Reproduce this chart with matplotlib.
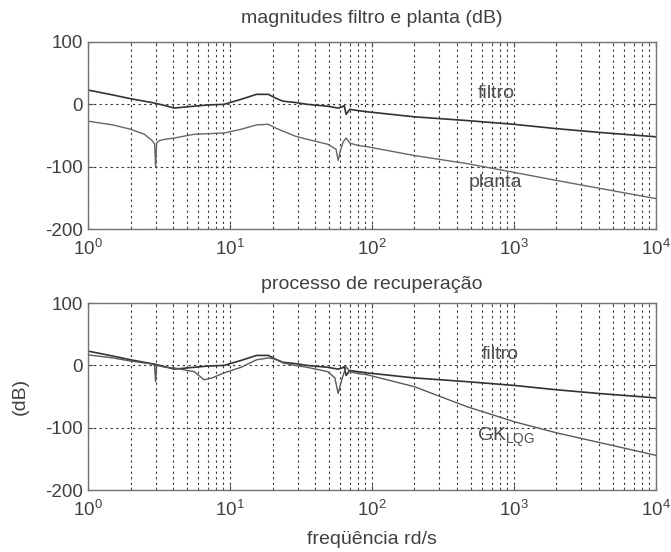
import numpy as np
import matplotlib
matplotlib.use('Agg')
import matplotlib.pyplot as plt

plt.rcParams['font.family'] = ['Liberation Sans', 'DejaVu Sans']
plt.rcParams['mathtext.fontset'] = 'custom'
plt.rcParams['mathtext.rm'] = 'Liberation Sans'
plt.rcParams['mathtext.it'] = 'Liberation Sans'
plt.rcParams['axes.unicode_minus'] = False

# filtro magnitude (dB) vs frequency (rd/s)
w_filtro = [1, 1.5, 2, 2.5, 2.95, 3.5, 4.06, 5, 5.6, 7, 9.1, 12, 15.4, 18.7, 21, 23.7,
            28.9, 35, 49, 58, 62, 64, 66, 70, 80, 93, 199, 467, 1000, 2000, 4000, 10000]
mag_filtro = [23, 15, 9, 5, 2, -2, -6, -4, -3, -1, 0, 8, 16, 16, 10, 5,
              3, 0, -3, -6, -4, -2, -16, -8, -10, -12, -20, -26, -32, -39, -45, -52]

# planta magnitude (dB)
w_planta = [1, 1.5, 2, 2.5, 2.8, 2.95, 3.0, 3.05, 3.2, 3.5, 4.06, 5.6, 9.1, 12, 15.4, 18.7,
            21, 23.7, 28.9, 35, 49, 56, 58, 60, 63, 66, 70, 80, 93, 199, 467, 1000, 2000, 10000]
mag_planta = [-27, -33, -40, -48, -57, -63, -100, -62, -58, -56, -54, -48, -46, -40, -33, -32,
              -38, -43, -51, -56, -64, -72, -90, -75, -60, -54, -62, -66, -68, -82, -95, -109, -122, -151]

# GK_LQG magnitude (dB)
w_gk = [1, 1.5, 2, 2.5, 2.85, 2.95, 3.0, 3.05, 3.2, 3.5, 4.06, 5, 5.6, 6.6, 7.5, 9.1, 12, 15.4,
        18.7, 21, 23.7, 28.9, 35, 49, 55, 58, 62, 66, 70, 80, 93, 199, 467, 1000, 2000, 10000]
mag_gk = [17, 12, 7, 4, 2, 0, -26, 0, -1, -3, -4, -8, -10, -23, -20, -12, -3, 9,
          12, 10, 4, 0, -3, -10, -20, -45, -20, -2, -10, -13, -15, -34, -66, -90, -108, -144]

fig = plt.figure(figsize=(6.71, 5.52), dpi=100)
ax1 = fig.add_axes([0.131, 0.585, 0.846, 0.339])
ax2 = fig.add_axes([0.131, 0.112, 0.846, 0.339])

fs = 14
tfs = 13.5
grid_kw = dict(color='0.2', linestyle=(0, (2, 3)), linewidth=0.8)

for ax in (ax1, ax2):
    ax.set_xscale('log')
    ax.set_xlim(1, 1e4)
    ax.set_ylim(-200, 100)
    ax.set_yticks([-200, -100, 0, 100])
    ax.grid(True, which='major', **grid_kw)
    ax.grid(True, which='minor', axis='x', **grid_kw)
    ax.tick_params(which='both', direction='in', top=True, right=True, labelsize=tfs,
                   colors='0.3', labelcolor='0.25')
    ax.tick_params(axis='x', which='major', pad=7)
    for s in ax.spines.values():
        s.set_color('0.45')
        s.set_linewidth(1.0)
    ax.set_axisbelow(True)

ax1.plot(w_filtro, mag_filtro, color='0.2', linewidth=1.2)
ax1.plot(w_planta, mag_planta, color='0.4', linewidth=1.0)
ax1.text(760, 17, 'filtro', fontsize=fs, color='0.3', ha='center', va='center')
ax1.text(740, -125, 'planta', fontsize=fs, color='0.3', ha='center', va='center')
ax1.set_title('magnitudes filtro e planta (dB)', fontsize=fs, color='0.25', pad=14)

ax2.plot(w_filtro, mag_filtro, color='0.2', linewidth=1.2)
ax2.plot(w_gk, mag_gk, color='0.35', linewidth=1.0)
ax2.text(810, 18, 'filtro', fontsize=fs, color='0.3', ha='center', va='center')
ax2.text(890, -116, r'GK$_{\mathrm{LQG}}$', fontsize=fs, color='0.3', ha='center', va='center')
ax2.set_title('processo de recuperação', fontsize=fs, color='0.25', pad=10)
ax2.set_xlabel('freqüência rd/s', fontsize=fs, color='0.25', labelpad=8)
ax2.set_ylabel('(dB)', fontsize=fs, color='0.25', labelpad=12)

fig.savefig('out.png', dpi=100)
